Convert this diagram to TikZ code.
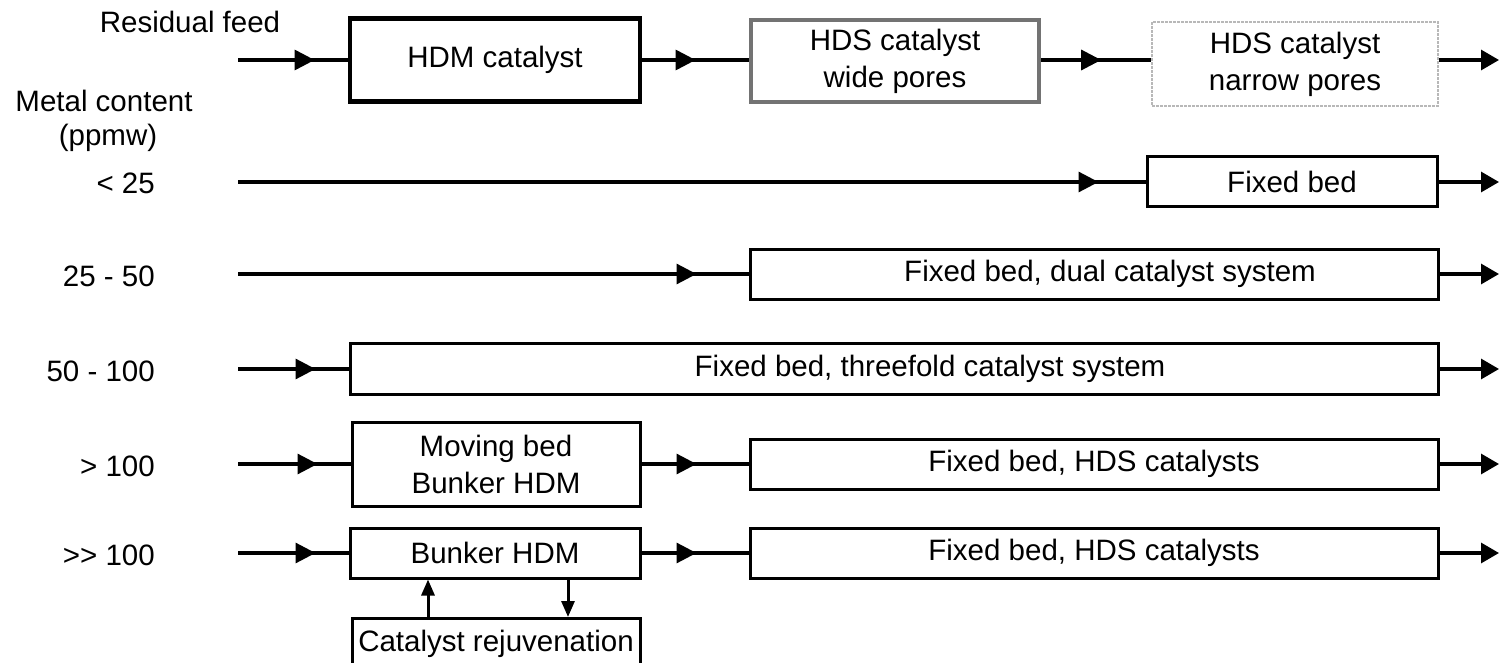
\documentclass[tikz,border=0pt]{standalone}
\usepackage{fontspec}
\setmainfont{Liberation Sans}
\usetikzlibrary{arrows.meta,decorations.markings}
\begin{document}
\begin{tikzpicture}[x=1pt,y=-1pt,
  font=\fontsize{29.5}{37}\selectfont,
  box/.style={draw, line width=3pt, rectangle, inner sep=0pt, align=center},
  conn/.style={line width=3.2pt},
  midarrow/.style={postaction={decorate}, decoration={markings, mark=at position #1 with {\arrow{Triangle[length=20pt,width=20pt]}}}},
  endarrow/.style={-{Triangle[length=18pt,width=20pt]}},
  vararrow/.style={line width=3pt, -{Triangle[length=16pt,width=13pt]}},
  lbl/.style={anchor=base east, inner sep=0pt},
  hdr/.style={anchor=base, inner sep=0pt},
]
\useasboundingbox (0,0) rectangle (1499,663);
\clip (0,0) rectangle (1499,663);

% header texts
\node[hdr] (feed) at (190,33) {Residual feed};
\node[hdr] (metal) at (104,112) {Metal content};
\node[hdr] (ppmw) at (108,146) {(ppmw)};

% row labels
\node[lbl] (l1) at (155,194) {< 25};
\node[lbl] (l2) at (155,286) {25 - 50};
\node[lbl] (l3) at (155,381) {50 - 100};
\node[lbl] (l4) at (155,476) {> 100};
\node[lbl] (l5) at (155,565) {>{}> 100};

% top row
\node[box, line width=4.8pt, minimum width=290pt, minimum height=83pt] (hdm) at (495,60) {HDM catalyst};
\node[box, draw=black!55, line width=4.8pt, minimum width=288pt, minimum height=82pt] (hdsw) at (895,61) {HDS catalyst\\wide pores};
\node[box, draw=black!28, densely dotted, line width=1.6pt, minimum width=286pt, minimum height=84pt] (hdsn) at (1295,64) {HDS catalyst\\narrow pores};
\coordinate (in0) at (238,60);
\coordinate (out0) at (1499,60);
\draw[conn, midarrow=-33pt] (in0) -- (in0 -| hdm.west);
\draw[conn, midarrow=-53pt] (hdm.east) -- (hdm.east -| hdsw.west);
\draw[conn, midarrow=-50pt] (hdsw.east |- in0) -- (in0 -| hdsn.west);
\draw[conn, endarrow] (in0 -| hdsn.east) -- (out0);

% < 25
\node[box, minimum width=290pt, minimum height=50pt] (fb1) at (1292,182) {Fixed bed};
\coordinate (in1) at (238,182);
\coordinate (out1) at (1499,182);
\draw[conn, midarrow=-47pt] (in1) -- (fb1.west);
\draw[conn, endarrow] (fb1.east) -- (out1);

% 25 - 50
\node[box, minimum width=688pt, minimum height=50pt] (fb2) at (1094,274) {\hspace*{32pt}Fixed bed, dual catalyst system};
\coordinate (in2) at (238,274);
\coordinate (out2) at (1499,274);
\draw[conn, midarrow=-52pt] (in2) -- (fb2.west);
\draw[conn, endarrow] (fb2.east) -- (out2);

% 50 - 100
\node[box, minimum width=1088pt, minimum height=51pt] (fb3) at (894,369) {\hspace*{72pt}Fixed bed, threefold catalyst system};
\coordinate (in3) at (238,369);
\coordinate (out3) at (1499,369);
\draw[conn, midarrow=-33pt] (in3) -- (fb3.west);
\draw[conn, endarrow] (fb3.east) -- (out3);

% > 100
\node[box, minimum width=288pt, minimum height=84pt] (mb) at (496,464) {Moving bed\\Bunker HDM};
\node[box, minimum width=688pt, minimum height=50pt] (fb4) at (1094,464) {Fixed bed, HDS catalysts};
\coordinate (in4) at (238,464);
\coordinate (out4) at (1499,464);
\draw[conn, midarrow=-33pt] (in4) -- (mb.west);
\draw[conn, midarrow=-52pt] (mb.east) -- (fb4.west);
\draw[conn, endarrow] (fb4.east) -- (out4);

% >> 100
\node[box, minimum width=290pt, minimum height=50pt] (bh) at (495,553) {Bunker HDM};
\node[box, minimum width=688pt, minimum height=50pt] (fb5) at (1094,553) {Fixed bed, HDS catalysts};
\coordinate (in5) at (238,553);
\coordinate (out5) at (1499,553);
\draw[conn, midarrow=-33pt] (in5) -- (bh.west);
\draw[conn, midarrow=-52pt] (bh.east) -- (fb5.west);
\draw[conn, endarrow] (fb5.east) -- (out5);

% rejuvenation
\node[box, anchor=north, minimum width=288pt, inner ysep=3pt, text height=30pt, text depth=40pt] (rej) at (496,617) {Catalyst rejuvenation};
\draw[vararrow] ([xshift=-68pt]rej.north) -- ([xshift=-67pt]bh.south);
\draw[vararrow] ([xshift=73pt]bh.south) -- ([xshift=72pt]rej.north);
\end{tikzpicture}
\end{document}
